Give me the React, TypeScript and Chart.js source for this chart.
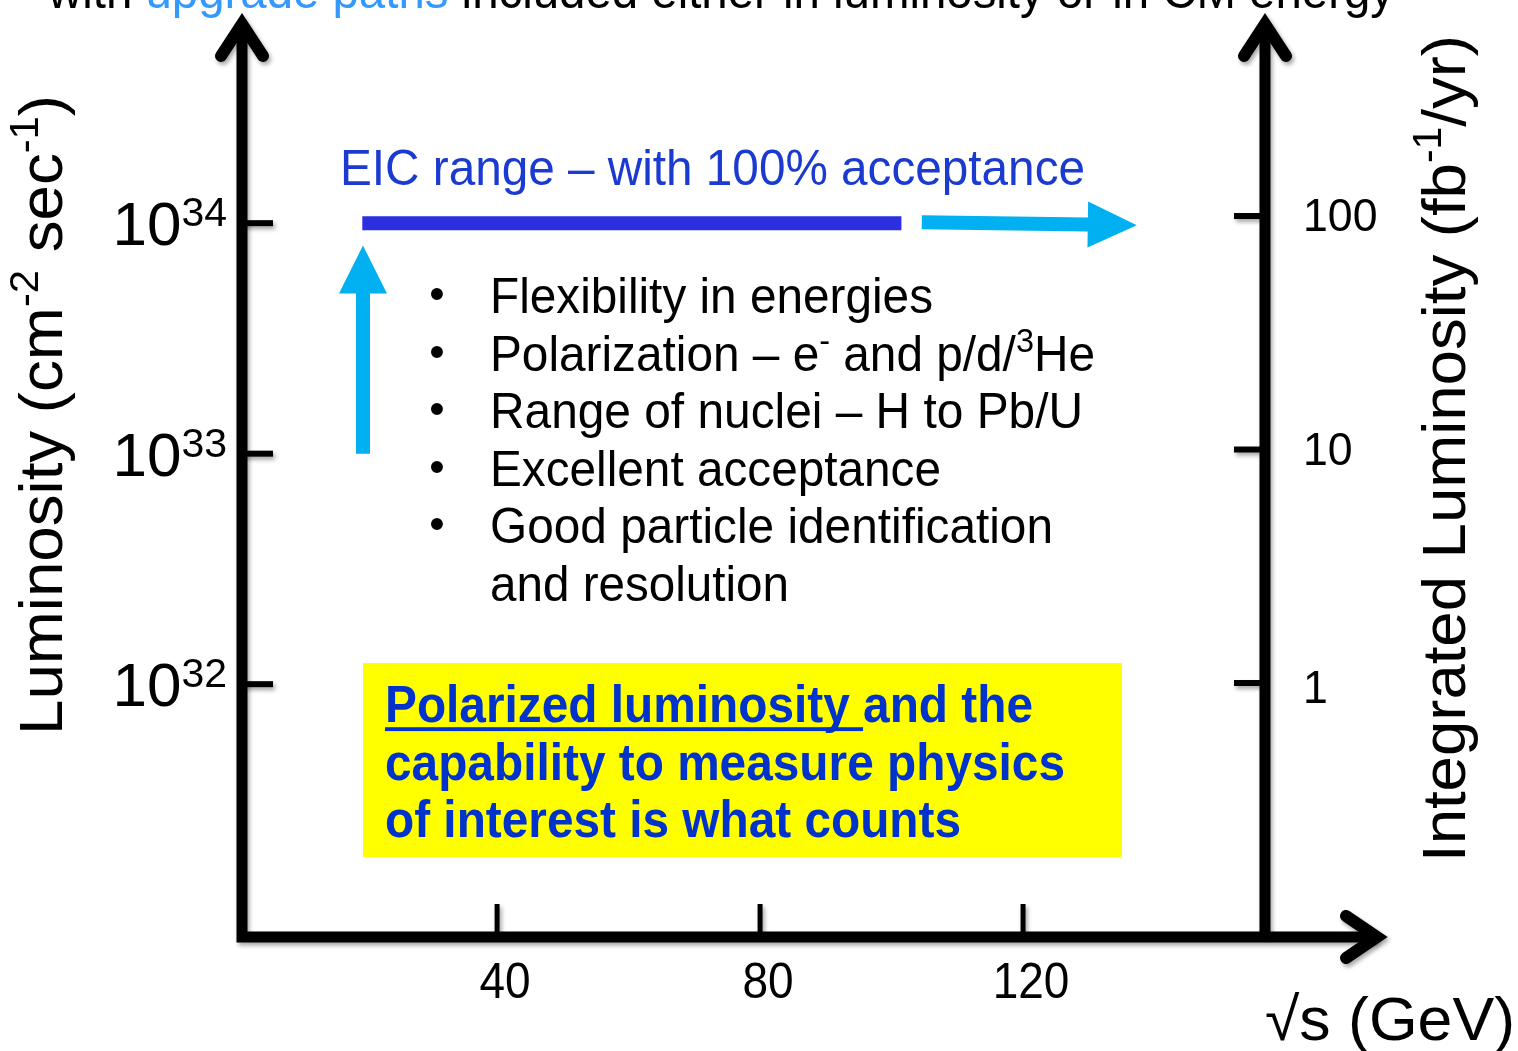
import React, { useEffect, useRef } from "react";
import { Chart, registerables } from "chart.js";

Chart.register(...registerables);

// ---------- Data ----------
const xRange = [1.2, 156.8]; // √s (GeV) shown along the horizontal axis
const yRange = [8e30, 8e34]; // luminosity (cm^-2 s^-1)
const y2Range = [0.0817, 726]; // integrated luminosity (fb^-1/yr)
const xTicks = [40, 80, 120];
const xTickLabels = ["40", "80", "120"];
const yTicks = [1e32, 1e33, 1e34];
const yTickExponents = ["32", "33", "34"];
const y2Ticks = [1, 10, 100];
const y2TickLabels = ["1", "10", "100"];

const eicRangeX = [19.5, 101.5];
const eicRangeY = [1e34, 1e34];
const energyUpgradeX = [104.6, 137.3];
const energyUpgradeY = [1.01e34, 0.98e34];
const lumiUpgradeX = [19.6, 19.6];
const lumiUpgradeY = [1e33, 8e33];

const bulletLines = [
  [{ text: "Flexibility in energies" }],
  [{ text: "Polarization – e" }, { text: "-", sup: true }, { text: " and p/d/" }, { text: "3", sup: true }, { text: "He" }],
  [{ text: "Range of nuclei – H to Pb/U" }],
  [{ text: "Excellent acceptance" }],
  [{ text: "Good particle identification" }],
  [{ text: "and resolution" }],
];
const bulletHasDot = [true, true, true, true, true, false];
const bulletWidths = [443, 605, 593, 451, 563, 299];

const FONT = '"Liberation Sans", Arial, Helvetica, sans-serif';
const BAR_BLUE = "#2B2FE0";
const LIGHT_BLUE = "#00B0F0";
const TITLE_BLUE = "#1A3AD0";
const BOX_BLUE = "#0033CC";

type Run = { text: string; size: number; color?: string; weight?: string; rise?: number; underline?: boolean };

function drawRuns(
  ctx: CanvasRenderingContext2D,
  runs: Run[],
  x: number,
  y: number,
  opts: { align?: "left" | "right" | "center"; width?: number; scaleX?: number; rotate?: number; color?: string } = {}
) {
  ctx.save();
  const widths = runs.map((r) => {
    ctx.font = `${r.weight || "normal"} ${r.size}px ${FONT}`;
    return ctx.measureText(r.text).width;
  });
  const natural = widths.reduce((a, b) => a + b, 0);
  const sx = opts.width ? opts.width / natural : opts.scaleX ?? 1;
  ctx.translate(x, y);
  if (opts.rotate) ctx.rotate(opts.rotate);
  ctx.scale(sx, 1);
  let cx = opts.align === "right" ? -natural : opts.align === "center" ? -natural / 2 : 0;
  ctx.textAlign = "left";
  ctx.textBaseline = "alphabetic";
  runs.forEach((r, i) => {
    ctx.font = `${r.weight || "normal"} ${r.size}px ${FONT}`;
    ctx.fillStyle = r.color || opts.color || "#000";
    ctx.fillText(r.text, cx, -(r.rise || 0));
    if (r.underline) {
      ctx.fillRect(cx, r.size * 0.1, widths[i], r.size * 0.075);
    }
    cx += widths[i];
  });
  ctx.restore();
}

function drawArrow(
  ctx: CanvasRenderingContext2D,
  x0: number, y0: number, x1: number, y1: number,
  shaftW: number, headLen: number, headHalf: number, color: string
) {
  const dx = x1 - x0, dy = y1 - y0;
  const len = Math.hypot(dx, dy);
  const ux = dx / len, uy = dy / len;
  const nx = -uy, ny = ux;
  const bx = x1 - ux * headLen, by = y1 - uy * headLen;
  ctx.save();
  ctx.fillStyle = color;
  ctx.beginPath();
  ctx.moveTo(x0 + (nx * shaftW) / 2, y0 + (ny * shaftW) / 2);
  ctx.lineTo(bx + (nx * shaftW) / 2, by + (ny * shaftW) / 2);
  ctx.lineTo(bx + nx * headHalf, by + ny * headHalf);
  ctx.lineTo(x1, y1);
  ctx.lineTo(bx - nx * headHalf, by - ny * headHalf);
  ctx.lineTo(bx - (nx * shaftW) / 2, by - (ny * shaftW) / 2);
  ctx.lineTo(x0 - (nx * shaftW) / 2, y0 - (ny * shaftW) / 2);
  ctx.closePath();
  ctx.fill();
  ctx.restore();
}

function chevron(ctx: CanvasRenderingContext2D, ax: number, ay: number, vx: number, vy: number, bx: number, by: number) {
  ctx.beginPath();
  ctx.moveTo(ax, ay);
  ctx.lineTo(vx, vy);
  ctx.lineTo(bx, by);
  ctx.stroke();
}

const boxPlugin = {
  id: "yellowBox",
  beforeDatasetsDraw(chart: any) {
    const ctx: CanvasRenderingContext2D = chart.ctx;
    ctx.save();
    ctx.fillStyle = "#FFFF00";
    ctx.fillRect(363, 663, 759, 194);
    ctx.restore();
  },
};

const arrowsPlugin = {
  id: "upgradeArrows",
  afterDatasetsDraw(chart: any) {
    const ctx: CanvasRenderingContext2D = chart.ctx;
    chart.data.datasets.forEach((ds: any, i: number) => {
      if (!ds.arrow) return;
      const pts = chart.getDatasetMeta(i).data;
      const a = pts[0], b = pts[pts.length - 1];
      drawArrow(ctx, a.x, a.y, b.x, b.y, ds.arrow.shaft, ds.arrow.headLen, ds.arrow.headHalf, ds.arrow.color);
    });
  },
};

const axesPlugin = {
  id: "customAxes",
  afterDraw(chart: any) {
    const ctx: CanvasRenderingContext2D = chart.ctx;
    const { left: L, right: R, top: T, bottom: B } = chart.chartArea;
    const xs = chart.scales.x, ys = chart.scales.y, y2s = chart.scales.y2;

    ctx.save();
    ctx.shadowColor = "rgba(0,0,0,0.35)";
    ctx.shadowBlur = 4;
    ctx.shadowOffsetX = 2;
    ctx.shadowOffsetY = 3;
    ctx.strokeStyle = "#000";

    // ticks
    ctx.lineCap = "butt";
    ctx.lineWidth = 6;
    yTicks.forEach((v) => {
      const py = ys.getPixelForValue(v);
      ctx.beginPath(); ctx.moveTo(L, py); ctx.lineTo(L + 31, py); ctx.stroke();
    });
    y2Ticks.forEach((v) => {
      const py = y2s.getPixelForValue(v);
      ctx.beginPath(); ctx.moveTo(R - 31, py); ctx.lineTo(R, py); ctx.stroke();
    });
    ctx.lineWidth = 5;
    xTicks.forEach((v) => {
      const px = xs.getPixelForValue(v);
      ctx.beginPath(); ctx.moveTo(px, B - 33); ctx.lineTo(px, B); ctx.stroke();
    });

    // axis lines
    ctx.lineWidth = 11;
    ctx.lineJoin = "miter";
    const vTop = T + 9;
    const xEnd = R + 112;
    ctx.beginPath();
    ctx.moveTo(L, vTop);
    ctx.lineTo(L, B);
    ctx.lineTo(xEnd, B);
    ctx.stroke();
    ctx.beginPath();
    ctx.moveTo(R, vTop);
    ctx.lineTo(R, B);
    ctx.stroke();

    // arrow heads
    ctx.lineWidth = 12;
    ctx.lineCap = "round";
    chevron(ctx, L - 21, vTop + 32, L, vTop, L + 21, vTop + 32);
    chevron(ctx, R - 21, vTop + 32, R, vTop, R + 21, vTop + 32);
    chevron(ctx, xEnd - 31, B - 21, xEnd, B, xEnd - 31, B + 21);
    ctx.restore();

    // tick labels
    yTicks.forEach((v, i) => {
      const py = ys.getPixelForValue(v);
      drawRuns(ctx, [{ text: "10", size: 62 }, { text: yTickExponents[i], size: 41, rise: 19 }], L - 15, py + 22, { align: "right" });
    });
    y2Ticks.forEach((v, i) => {
      const py = y2s.getPixelForValue(v);
      drawRuns(ctx, [{ text: y2TickLabels[i], size: 46 }], R + 38, py + 15 + (i === 0 ? 5 : 0), { align: "left", scaleX: 0.97 });
    });
    xTicks.forEach((v, i) => {
      const px = xs.getPixelForValue(v);
      drawRuns(ctx, [{ text: xTickLabels[i], size: 50 }], px + 8, B + 61, { align: "center", scaleX: 0.92 });
    });

    // axis titles
    drawRuns(
      ctx,
      [
        { text: "Luminosity (cm", size: 61 },
        { text: "-2", size: 40, rise: 24 },
        { text: " sec", size: 61 },
        { text: "-1", size: 40, rise: 24 },
        { text: ")", size: 61 },
      ],
      62, 735, { rotate: -Math.PI / 2, width: 640 }
    );
    drawRuns(
      ctx,
      [
        { text: "Integrated Luminosity (fb", size: 62 },
        { text: "-1", size: 40, rise: 24 },
        { text: "/yr)", size: 62 },
      ],
      1465, 862, { rotate: -Math.PI / 2, width: 827 }
    );
    drawRuns(ctx, [{ text: "√s (GeV)", size: 61 }], 1265, 1040, { width: 250 });

    // top (cropped) heading
    drawRuns(
      ctx,
      [
        { text: "with ", size: 50 },
        { text: "upgrade paths", size: 50, color: "#3399FF" },
        { text: " included either in luminosity or in CM energy", size: 50 },
      ],
      48, 8, { width: 1346 }
    );

    // EIC range label
    drawRuns(ctx, [{ text: "EIC range – with 100% acceptance", size: 50, color: TITLE_BLUE }], 340, 185, { width: 745 });

    // bullet list
    bulletLines.forEach((line, i) => {
      const base = 313 + i * 57.5;
      if (bulletHasDot[i]) {
        drawRuns(ctx, [{ text: "•", size: 44 }], 437, base - 4, { align: "center" });
      }
      const runs: Run[] = line.map((r: any) =>
        r.sup ? { text: r.text, size: 34, rise: 19 } : { text: r.text, size: 50 }
      );
      drawRuns(ctx, runs, 490, base, { width: bulletWidths[i] });
    });

    // yellow box text
    drawRuns(
      ctx,
      [
        { text: "Polarized luminosity ", size: 52, weight: "bold", underline: true },
        { text: "and the", size: 52, weight: "bold" },
      ],
      385, 722, { width: 648, color: BOX_BLUE }
    );
    drawRuns(ctx, [{ text: "capability to measure physics", size: 52, weight: "bold" }], 385, 779.5, { width: 680, color: BOX_BLUE });
    drawRuns(ctx, [{ text: "of interest is what counts", size: 52, weight: "bold" }], 385, 837, { width: 576, color: BOX_BLUE });
  },
};

export default function App() {
  const ref = useRef<HTMLCanvasElement | null>(null);

  useEffect(() => {
    if (!ref.current) return;
    const toPts = (xs: number[], ys: number[]) => xs.map((x, i) => ({ x, y: ys[i] }));
    const chart = new Chart(ref.current, {
      type: "scatter",
      data: {
        datasets: [
          {
            label: "EIC range",
            data: toPts(eicRangeX, eicRangeY),
            showLine: true,
            borderColor: BAR_BLUE,
            backgroundColor: BAR_BLUE,
            borderWidth: 14,
            borderCapStyle: "butt",
            pointRadius: 0,
            xAxisID: "x",
            yAxisID: "y",
          } as any,
          {
            label: "Energy upgrade",
            data: toPts(energyUpgradeX, energyUpgradeY),
            showLine: false,
            pointRadius: 0,
            xAxisID: "x",
            yAxisID: "y",
            arrow: { shaft: 14, headLen: 49, headHalf: 23, color: LIGHT_BLUE },
          } as any,
          {
            label: "Luminosity upgrade",
            data: toPts(lumiUpgradeX, lumiUpgradeY),
            showLine: false,
            pointRadius: 0,
            xAxisID: "x",
            yAxisID: "y",
            arrow: { shaft: 14, headLen: 48, headHalf: 24, color: LIGHT_BLUE },
          } as any,
        ],
      },
      options: {
        responsive: false,
        animation: false,
        devicePixelRatio: 1,
        events: [],
        layout: { padding: { left: 242, right: 253, top: 15, bottom: 114 } },
        plugins: { legend: { display: false }, tooltip: { enabled: false } },
        scales: {
          x: { type: "linear", min: xRange[0], max: xRange[1], display: false },
          y: { type: "logarithmic", min: yRange[0], max: yRange[1], display: false },
          y2: { type: "logarithmic", position: "right", min: y2Range[0], max: y2Range[1], display: false },
        },
      } as any,
      plugins: [boxPlugin, arrowsPlugin, axesPlugin],
    });
    return () => chart.destroy();
  }, []);

  return (
    <div style={{ position: "absolute", left: 0, top: 0, width: 1518, height: 1051, background: "#fff", overflow: "hidden" }}>
      <canvas ref={ref} width={1518} height={1051} style={{ display: "block", width: 1518, height: 1051 }} />
    </div>
  );
}
